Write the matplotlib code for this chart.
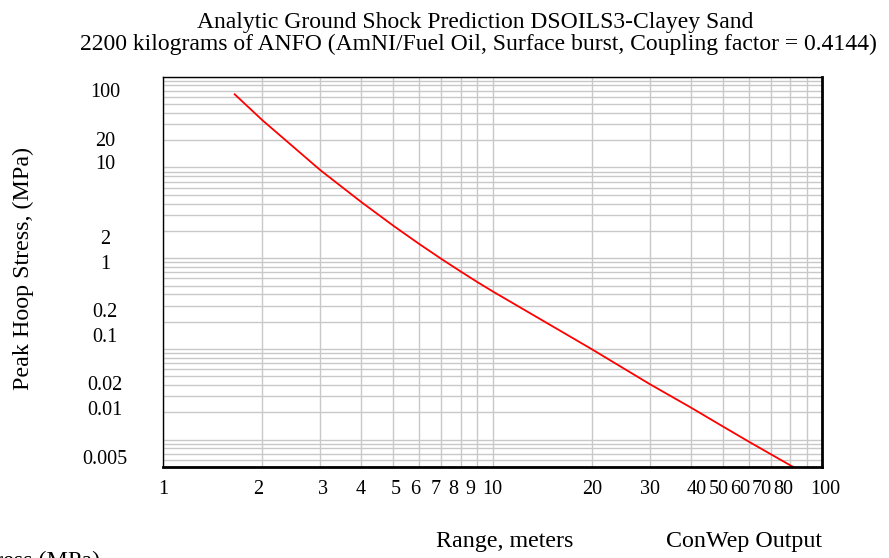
import matplotlib
matplotlib.use('Agg')
import matplotlib.pyplot as plt
import numpy as np
from matplotlib.ticker import FixedLocator, LogLocator, NullFormatter
from matplotlib.transforms import ScaledTranslation

plt.rcParams['font.family'] = ['Liberation Serif', 'DejaVu Serif']

# curve (range in m, peak hoop stress in MPa)
range_m = [1.65, 2, 3, 4, 5, 6, 7, 8, 9, 10, 20, 30, 40, 50, 60, 70, 82.6]
stress = [64.0, 33.3, 9.36, 4.15, 2.28, 1.43, 0.98, 0.715, 0.545, 0.432,
          0.0995, 0.0410, 0.0226, 0.0140, 0.0095, 0.0069, 0.0049]

x_ticks = [1, 2, 3, 4, 5, 6, 7, 8, 9, 10, 20, 30, 40, 50, 60, 70, 80, 100]
x_labels = ['1', '2', '3', '4', '5', '6', '7', '8', '9', '10',
            '20', '30', '40', '50', '60', '70', '80', '100']
y_ticks = [100, 20, 10, 2, 1, 0.2, 0.1, 0.02, 0.01, 0.005]
y_labels = ['100', '20', '10', '2', '1', '0.2', '0.1', '0.02', '0.01', '0.005']

# the original program nudges its labels off the tick positions (pixels)
x_shift = [0, -3.6, 2.8, -1, 2, -4, -6, -7, -7, 0, 0, 0, 6, -4.5, -9, -9, -7, 3]
y_shift = [13.3, -1.1, -5.1, 5.9, 3.6, -11.5, -13.8, -28.9, -31.2, -10.3]

W, H = 889, 558
fig = plt.figure(figsize=(W / 100, H / 100), dpi=100)
ax = fig.add_axes([163 / W, 1 - 467 / H, (822 - 163) / W, (467 - 76.7) / H])

ax.plot(range_m, stress, color='red', lw=1.3)
ax.set_xscale('log')
ax.set_yscale('log')
ax.set_xlim(1, 100)
ax.set_ylim(0.005, 100)

ax.xaxis.set_major_locator(FixedLocator(x_ticks))
ax.set_xticklabels(x_labels, fontsize=14.5)
ax.yaxis.set_major_locator(FixedLocator(y_ticks))
ax.set_yticklabels(y_labels, fontsize=14.5)
for axis in (ax.xaxis, ax.yaxis):
	axis.set_minor_locator(LogLocator(base=10, subs=np.arange(1, 10), numticks=100))
	axis.set_minor_formatter(NullFormatter())
ax.grid(which='both', color='#c8c8c8', lw=1)
ax.tick_params(which='both', length=0)
ax.tick_params(axis='x', pad=16)
ax.tick_params(axis='y', pad=41.8)

for lab, dx in zip(ax.get_xticklabels(), x_shift):
	lab.set_verticalalignment('center')
	lab.set_transform(lab.get_transform() + ScaledTranslation(dx / 100, 0, fig.dpi_scale_trans))
for lab, dy in zip(ax.get_yticklabels(), y_shift):
	lab.set_horizontalalignment('center')
	lab.set_transform(lab.get_transform() + ScaledTranslation(0, -dy / 100, fig.dpi_scale_trans))

for side in ('left', 'top'):
	ax.spines[side].set_linewidth(1)
for side in ('right', 'bottom'):
	ax.spines[side].set_linewidth(2)

big = 17.3
fig.text(196.7 / W, 1 - 28 / H, 'Analytic Ground Shock Prediction DSOILS3-Clayey Sand',
         ha='left', va='baseline', fontsize=17)
fig.text(80 / W, 1 - 50 / H,
         '2200 kilograms of ANFO (AmNI/Fuel Oil, Surface burst, Coupling factor = 0.4144)',
         ha='left', va='baseline', fontsize=17)
fig.text(23 / W, 1 - 268 / H, 'Peak Hoop Stress, (MPa)', rotation=90,
         ha='center', va='center', fontsize=big)
fig.text(505 / W, 1 - 546.7 / H, 'Range, meters', ha='center', va='baseline', fontsize=big)
fig.text(744 / W, 1 - 546.7 / H, 'ConWep Output', ha='center', va='baseline', fontsize=big)
fig.text(100 / W, 1 - 551 / H, 'Peak Hoop Stress (MPa)', ha='right', va='top', fontsize=big)

fig.savefig('out.png', dpi=100)
